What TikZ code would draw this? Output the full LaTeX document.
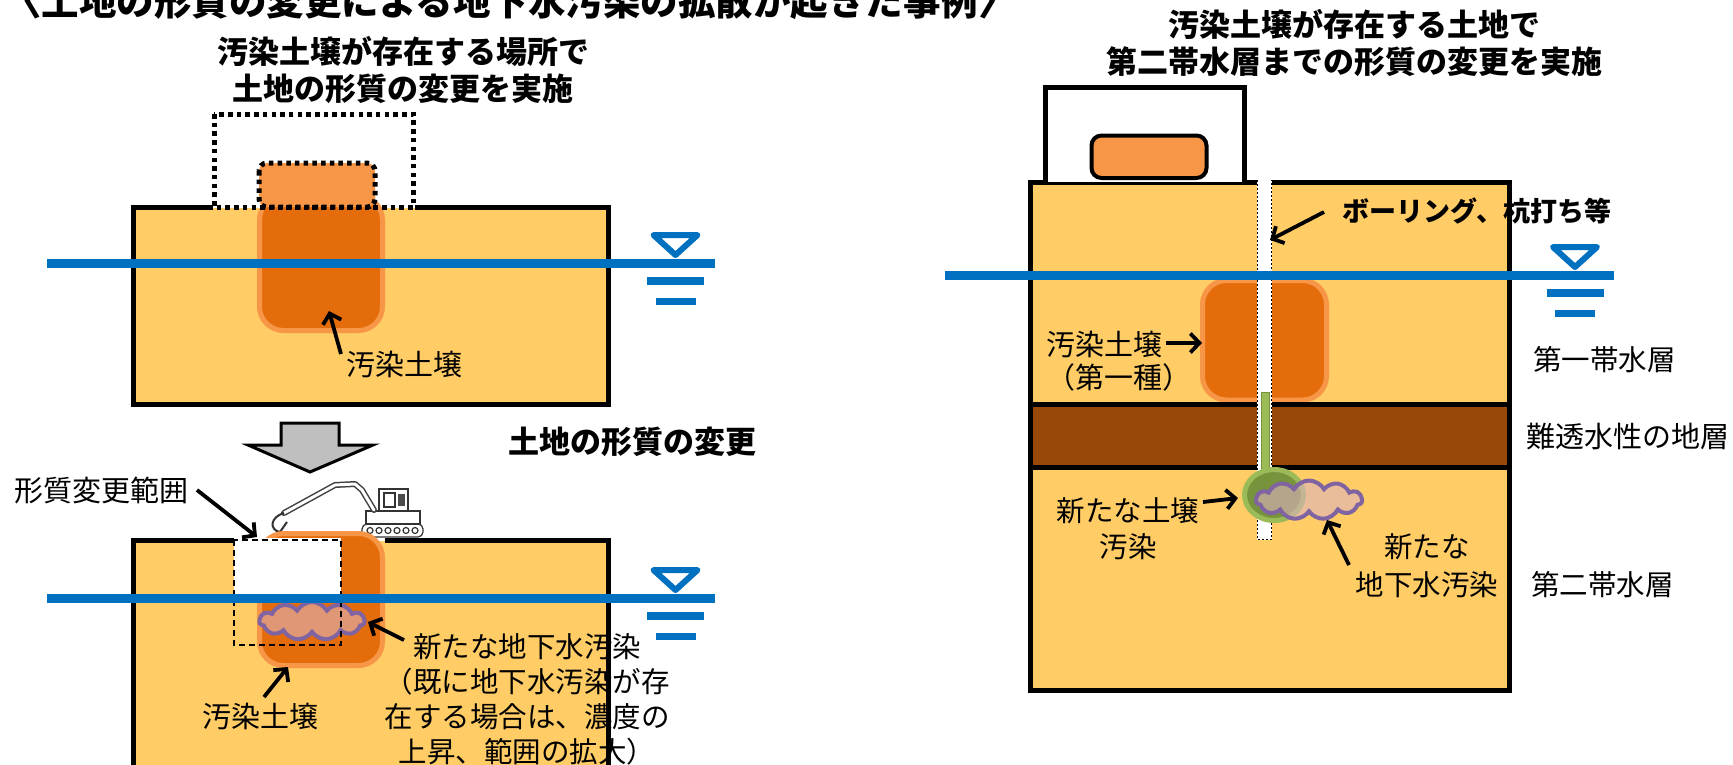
\documentclass[tikz,border=0pt]{standalone}
\usepackage{fontspec}
\setmainfont{Noto Sans CJK JP}
\usetikzlibrary{arrows.meta,shapes.symbols}
\definecolor{soilY}{RGB}{255,204,102}
\definecolor{orangeD}{RGB}{228,108,10}
\definecolor{orangeL}{RGB}{247,150,70}
\definecolor{blueW}{RGB}{0,112,192}
\definecolor{brownL}{RGB}{152,72,7}
\definecolor{greenD}{RGB}{119,147,60}
\definecolor{greenL}{RGB}{155,187,89}
\definecolor{purpleC}{RGB}{128,100,162}
\definecolor{cloudC}{RGB}{220,180,190}
\definecolor{grayA}{RGB}{191,191,191}
\newcommand\jfs[2]{\fontsize{#1}{#2}\selectfont}
\tikzset{
  soilbox/.style={draw=orangeL, fill=orangeD, line width=5pt, rounded corners=24pt},
  framel/.style={line width=5pt, line join=miter},
  water/.style={draw=blueW, line width=9pt},
  ptr/.style={line width=3.8pt, -{Straight Barb[length=9pt,width=19pt]}},
  lbl/.style={inner sep=0pt, font=\jfs{29}{35}},
  blbl/.style={inner sep=0pt, font=\bfseries\jfs{31}{37}},
  dotline/.style={line width=5pt, dash pattern=on 4.5pt off 4.2pt},
  gwcloud/.style={cloud, cloud puffs=11, cloud puff arc=120, aspect=2.8, draw=purpleC, line width=4pt, fill=cloudC, fill opacity=0.6, draw opacity=1, inner sep=0pt},
  wsym/.pic={
    \draw[blueW, line width=6pt, line join=round] (-22,-28) -- (22,-28) -- (0,-8) -- cycle;
    \fill[blueW] (-28.5,14) rectangle (28.5,22);
    \fill[blueW] (-20,35) rectangle (20,42);
  }
}
\begin{document}
\begin{tikzpicture}[x=1pt,y=-1pt]
\useasboundingbox (0,0) rectangle (1733,764);
\fill[white] (0,0) rectangle (1733,764);

% ---------- title ----------
\node[anchor=base, inner sep=0pt, font=\bfseries\jfs{37.5}{40}] (title) at (510,15) {〈土地の形質の変更による地下水汚染の拡散が起きた事例〉};

% ---------- top-left panel ----------
\node[blbl, align=center] (subL) at (403,70.5) {汚染土壌が存在する場所で\\土地の形質の変更を実施};
\fill[soilY] (133.5,207.5) rectangle (608.5,404.5);
\draw[soilbox] (259.5,196) rectangle (382.5,330.5);
\fill[orangeL, rounded corners=8pt] (259,163) rectangle (375,207);
\draw[framel] (213,207.5) -- (133.5,207.5) -- (133.5,404.5) -- (608.5,404.5) -- (608.5,207.5) -- (415,207.5);
\draw[dotline] (214,114) rectangle (413,207);
\draw[dotline, rounded corners=8pt] (259,163) rectangle (375,207);
\draw[water] (47,263) -- (715,263);
\pic at (675.5,263) {wsym};
\node[lbl] (soilT) at (404,364) {汚染土壌};
\coordinate (a1s) at (341,354);
\coordinate (a1e) at (329,311);
\draw[ptr] (a1s) -- (a1e);

% ---------- gray arrow ----------
\draw[fill=grayA, line width=3pt, line join=miter] (281,423) -- (339,423) -- (339,445) -- (373,445) -- (310,472) -- (248,445) -- (281,445) -- cycle;
\node[blbl] (change) at (632,442) {土地の形質の変更};

% ---------- excavator ----------
\begin{scope}[line width=1.2pt, draw=black!80]
  \draw[fill=white, rounded corners=5pt] (362,524) rectangle (423,537);
  \foreach \x in {370,379,...,415} \draw (\x,530.5) circle[radius=3pt];
  \draw[fill=white] (366,511) rectangle (420,524);
  \draw[fill=white] (379,489) rectangle (408,511);
  \draw (384,493) rectangle (395,507);
  \fill[black!70] (398,494) rectangle (405,506);
  \draw[line width=6pt, black!75, line cap=round, line join=round] (374,510) -- (362,490) -- (355,484) -- (335,485) -- (284,513);
  \draw[line width=3pt, white, line cap=round, line join=round] (374,510) -- (362,490) -- (355,484) -- (335,485) -- (284,513);
  \draw[line width=2pt] (284,513) .. controls (270,517) and (269,530) .. (280,532) -- (287,522);
\end{scope}

% ---------- bottom-left panel ----------
\fill[soilY] (133.5,540.5) rectangle (608.5,800);
\draw[soilbox] (259.5,533.5) rectangle (382.5,665.5);
\fill[white] (234,538) rectangle (341,598);
\node[gwcloud, minimum width=105pt, minimum height=38pt] (cloudL) at (312,621) {};
\draw[framel] (234,540.5) -- (133.5,540.5) -- (133.5,800);
\draw[framel] (608.5,800) -- (608.5,540.5) -- (385,540.5);
\draw[line width=2pt, dash pattern=on 6pt off 4pt] (234,540) rectangle (341,645);
\draw[water] (47,598) -- (715,598);
\pic at (675.5,598) {wsym};
\node[lbl] (rangeL) at (101,490) {形質変更範囲};
\coordinate (a2s) at (197,490);
\coordinate (a2e) at (257,537);
\draw[ptr] (a2s) -- (a2e);
\node[lbl, align=center, font=\jfs{28.5}{35}] (newgwL) at (527,699) {新たな地下水汚染\\（既に地下水汚染が存\\在する場合は、濃度の\\上昇、範囲の拡大）};
\coordinate (a3s) at (404,640);
\coordinate (a3e) at (368,622);
\draw[ptr] (a3s) -- (a3e);
\node[lbl] (soilB) at (260,716) {汚染土壌};
\coordinate (a4s) at (264,697);
\coordinate (a4e) at (288,667);
\draw[ptr] (a4s) -- (a4e);

% ---------- right panel ----------
\node[blbl, align=center] (subR) at (1354,43.5) {汚染土壌が存在する土地で\\第二帯水層までの形質の変更を実施};
\fill[soilY] (1030.5,182.5) rectangle (1509.5,690.5);
\draw[soilbox] (1202.5,280.5) rectangle (1326.5,400);
\fill[brownL] (1030.5,404.5) rectangle (1509.5,467.5);
\draw[line width=5pt] (1030.5,404.5) -- (1509.5,404.5);
\draw[line width=5pt] (1030.5,467.5) -- (1509.5,467.5);
\draw[framel] (1030.5,182.5) rectangle (1509.5,690.5);
\draw[framel, fill=white] (1045.5,182) -- (1045.5,87.5) -- (1244.5,87.5) -- (1244.5,182);
\draw[line width=4pt, fill=orangeL, rounded corners=10pt] (1091.5,135.5) rectangle (1206.5,178);
\fill[white] (1257,180) rectangle (1272,540);
\draw[line width=1.8pt, dash pattern=on 2pt off 2pt] (1257.5,180) -- (1257.5,539.5) -- (1271.5,539.5) -- (1271.5,180);
\draw[fill=greenL, draw=greenD, line width=1pt] (1261,392) rectangle (1269,475);
\draw[fill=greenD, draw=greenL, line width=5pt] (1274,495) ellipse [x radius=29.5pt, y radius=25.5pt];
\node[gwcloud, minimum width=106pt, minimum height=39pt] (cloudR) at (1309,500) {};
\draw[water] (945,275) -- (1614,275);
\pic at (1575,275) {wsym};

\node[inner sep=0pt, font=\bfseries\jfs{27}{32}] (boring) at (1477,211) {ボーリング、杭打ち等};
\coordinate (a5s) at (1324,212);
\coordinate (a5e) at (1270,240);
\draw[ptr] (a5s) -- (a5e);
\node[lbl, align=left, anchor=west, font=\jfs{29}{33}] (soilR) at (1046,361.5) {汚染土壌\\（第一種）};
\coordinate (a6s) at (1166,343);
\coordinate (a6e) at (1202,343);
\draw[ptr] (a6s) -- (a6e);
\node[lbl, anchor=west, font=\jfs{28.5}{33}] (aq1) at (1533,360) {第一帯水層};
\node[lbl, anchor=west, font=\jfs{29}{33}] (aqt) at (1526,437) {難透水性の地層};
\node[lbl, anchor=west, font=\jfs{28.5}{33}] (aq2) at (1531,585) {第二帯水層};
\node[lbl, align=center, font=\jfs{28.5}{36}] (newsoil) at (1128,529) {新たな土壌\\汚染};
\coordinate (a7s) at (1203,502);
\coordinate (a7e) at (1238,498);
\draw[ptr] (a7s) -- (a7e);
\node[lbl, align=center, font=\jfs{28.5}{38}] (newgwR) at (1427,566) {新たな\\地下水汚染};
\coordinate (a8s) at (1349,565);
\coordinate (a8e) at (1327,520);
\draw[ptr] (a8s) -- (a8e);
\end{tikzpicture}
\end{document}
